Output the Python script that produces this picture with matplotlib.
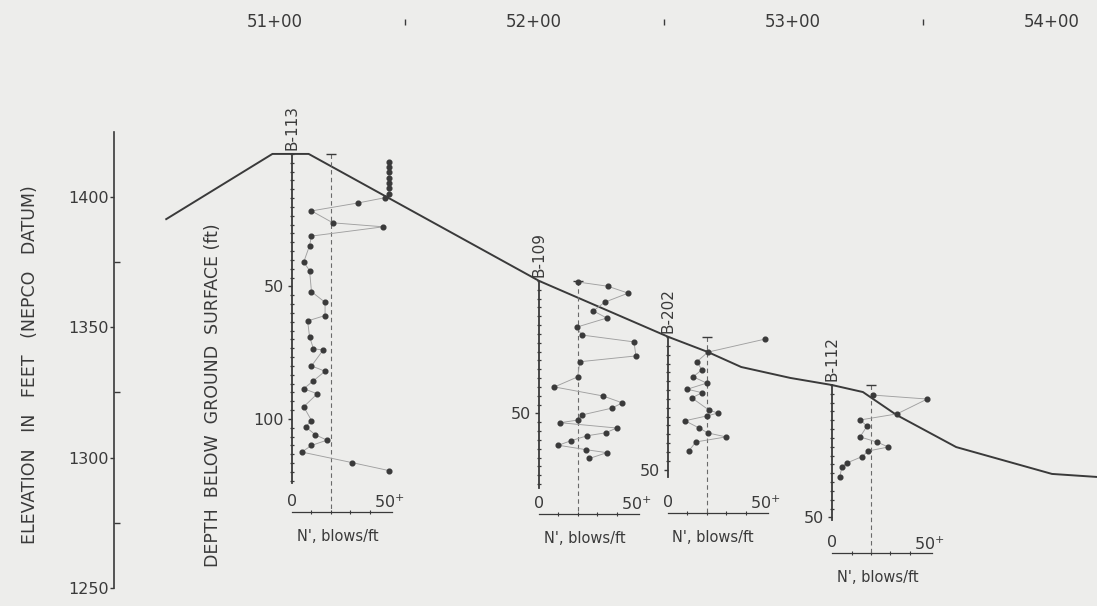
import matplotlib
matplotlib.use("Agg")
import matplotlib.pyplot as plt
from matplotlib.ticker import FixedLocator
import numpy as np

# ---------------- data ----------------
stations = [5100, 5200, 5300, 5400]
station_labels = ["51+00", "52+00", "53+00", "54+00"]
station_mid_ticks = [5150, 5250, 5350]

elev_ticks = [1250, 1300, 1350, 1400]
elev_minor = [1275, 1325, 1375]

ground_sta = [5058, 5099, 5113, 5202, 5252, 5267, 5280, 5299, 5315, 5327, 5340, 5363, 5400, 5418]
ground_elev = [1391.4, 1416.4, 1416.4, 1367.7, 1346.2, 1340.5, 1334.7, 1330.5, 1327.8, 1325.1,
               1316.3, 1304.0, 1293.7, 1292.5]

bore_names = ["B-113", "B-109", "B-202", "B-112"]
bore_sta = [5106.6, 5201.9, 5251.7, 5315.1]
bore_top = [1416.4, 1367.7, 1346.2, 1327.8]
bore_bottom = [124, 78, 53, 51]
bore_axis_depth = [135, 88, 66.5, 63.5]
bore_depth_ticks = [[50, 100], [50], [50], [50]]
critical_n = 20

b113_n = [50, 50, 50, 50, 50, 50, 50, 48, 34, 10, 21, 47, 10, 9, 6, 9, 10, 17, 17, 8,
          9, 11, 16, 10, 17, 11, 6, 13, 6, 10, 7, 12, 18, 10, 5, 31, 50]
b113_depth = [3, 5, 7, 9, 11, 13, 15, 16.5, 18.5, 21.5, 26, 27.5, 31, 34.6, 40.8, 44, 52, 56, 61, 63,
              69, 73.5, 74, 80, 82, 85.6, 88.6, 90.5, 95.4, 100.6, 103, 106, 108, 110, 112.5, 116.5, 119.5]

b109_n = [20, 35.5, 46, 34, 28, 35, 19.6, 22, 49, 50, 21, 20, 8, 33, 43, 37.6, 22, 20, 11,
          40, 34.5, 25, 16.5, 10, 24.5, 35, 26]
b109_depth = [0.4, 2, 4.6, 8, 11.3, 14, 17.4, 20.4, 23, 28.3, 30.5, 36.2, 40, 43.4, 46, 48, 50.6,
              52.5, 53.5, 55.5, 57.3, 58.4, 60.3, 62, 63.7, 64.8, 67]

b202_n = [50, 20.6, 15, 17.5, 13, 20, 10, 17.5, 12.4, 21, 25.7, 20, 8.8, 16, 20.6, 30, 14.4, 10.8]
b202_depth = [0.8, 5.7, 9.3, 12.4, 15, 17.4, 19.7, 21, 23, 27.5, 28.7, 29.8, 31.6, 34.3, 36.2,
              37.7, 39.6, 43]

b112_n = [21, 49, 33.5, 14.4, 18, 14.4, 23, 29, 18.6, 15.5, 7.7, 5, 4]
b112_depth = [3.8, 5.3, 10.9, 13.2, 15.5, 19.6, 21.5, 23.4, 24.9, 27, 29.4, 30.9, 34.7]

bore_n = [b113_n, b109_n, b202_n, b112_n]
bore_depth = [b113_depth, b109_depth, b202_depth, b112_depth]

# ---------------- style / layout ----------------
BG = "#ededeb"
INK = "#3a3a3a"
W, H = 1097, 606
PX_X = 2.59    # px per ft of station
PX_Y = 2.608   # px per ft of elevation
NPX = 1.94     # px per blow
DPX = 2.65     # px per ft of depth
N_MAX = 52

plt.rcParams["font.family"] = ["DejaVu Sans"]

fig = plt.figure(figsize=(W / 100, H / 100), dpi=100, facecolor=BG)
ax = fig.add_axes([0, 0, 1, 1])
ax.set_facecolor(BG)
ax.set_xlim(5100 - 275 / PX_X, 5100 + (W - 275) / PX_X)
ax.set_ylim(1400 - (H - 196.7) / PX_Y, 1400 + 196.7 / PX_Y)

for s in ["top", "right", "bottom"]:
    ax.spines[s].set_visible(False)
ax.spines["left"].set_position(("data", 5100 + (114 - 275) / PX_X))
ax.spines["left"].set_bounds(1250, 1424.8)
ax.spines["left"].set_color(INK)
ax.spines["left"].set_linewidth(1.2)
ax.set_yticks(elev_ticks)
ax.set_yticklabels([str(v) for v in elev_ticks])
ax.yaxis.set_minor_locator(FixedLocator(elev_minor))
ax.tick_params(axis="y", which="major", direction="out", length=3, width=1, pad=1,
               labelsize=11.5, colors=INK)
ax.tick_params(axis="y", which="minor", direction="in", length=4, width=1, colors=INK)
ax.set_xticks([])

# station labels across the top
xt = ax.get_xaxis_transform()
ylab = 1 - 22 / H
for s, lab in zip(stations, station_labels):
    ax.text(s, ylab, lab, transform=xt, ha="center", va="center", fontsize=12, color=INK)
ax.plot(station_mid_ticks, [ylab] * len(station_mid_ticks), transform=xt, ls="none",
        marker="|", ms=5, mew=1, color=INK)

# ground surface profile
ax.plot(ground_sta, ground_elev, color=INK, lw=1.4, solid_joinstyle="round")

fig.text(30 / W, 1 - 365 / H, "ELEVATION   IN   FEET   (NEPCO   DATUM)", rotation=90,
         ha="center", va="center", fontsize=12.5, color=INK)
fig.text(213 / W, 1 - 395 / H, "DEPTH  BELOW  GROUND  SURFACE (ft)", rotation=90,
         ha="center", va="center", fontsize=12.5, color=INK)

# boring logs
for name, sta, top, bot, adep, dticks, ns, ds in zip(bore_names, bore_sta, bore_top, bore_bottom,
                                                      bore_axis_depth, bore_depth_ticks,
                                                      bore_n, bore_depth):
    h_el = adep * DPX / PX_Y
    w_st = N_MAX * NPX / PX_X
    iax = ax.inset_axes([sta, top - h_el, w_st, h_el], transform=ax.transData)
    iax.set_xlim(0, N_MAX)
    iax.set_ylim(adep, 0)
    iax.patch.set_visible(False)
    for s in ["top", "right"]:
        iax.spines[s].set_visible(False)
    iax.spines["left"].set_bounds(0, bot)
    iax.spines["left"].set_color(INK)
    iax.spines["left"].set_linewidth(1.3)
    iax.spines["bottom"].set_bounds(0, 51.5)
    iax.spines["bottom"].set_color(INK)
    iax.spines["bottom"].set_linewidth(0.9)

    iax.yaxis.set_major_locator(FixedLocator(dticks))
    iax.yaxis.set_minor_locator(FixedLocator(np.arange(0, bot + 0.1, 10 / 3)))
    iax.set_yticklabels([str(v) for v in dticks])
    iax.tick_params(axis="y", which="major", direction="out", length=3, width=1, pad=3,
                    labelsize=11.5, colors=INK)
    iax.tick_params(axis="y", which="minor", direction="inout", length=3, width=0.9, colors=INK)

    iax.set_xticks([0, 50])
    iax.set_xticklabels(["0", "50$^{+}$"])
    iax.xaxis.set_minor_locator(FixedLocator([10, 20, 30, 40]))
    iax.tick_params(axis="x", which="major", length=0, pad=-13, labelsize=11.5, colors=INK)
    iax.tick_params(axis="x", which="minor", direction="inout", length=2.5, width=0.8, colors=INK)
    iax.set_xlabel("N', blows/ft", fontsize=10.5, color=INK)
    iax.xaxis.set_label_coords(0.45, -17 / (adep * DPX))

    iax.plot([critical_n, critical_n], [0, adep], ls=(0, (4, 3)), lw=0.8, color="#6a6a6a",
             clip_on=False)
    iax.plot([critical_n], [0], ls="none", marker="_", ms=7, mew=1, color=INK, clip_on=False)

    iax.plot(ns, ds, color="#a0a0a0", lw=0.65, marker="o", ms=3.4, mfc=INK, mec=INK,
             clip_on=False)
    iax.text(0, -1.5, name, rotation=90, ha="center", va="bottom", fontsize=11, color=INK)

fig.savefig("out.png", dpi=100, facecolor=BG)
